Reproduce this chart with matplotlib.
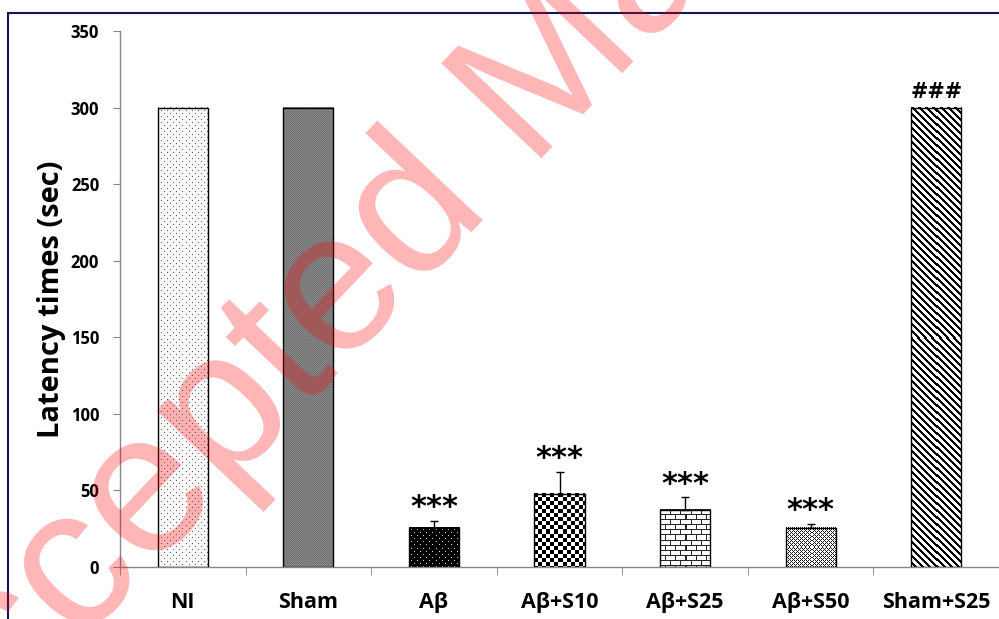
import numpy as np
import matplotlib
matplotlib.use("Agg")
import matplotlib.pyplot as plt
from matplotlib.patches import Rectangle

# data
groups = ["NI", "Sham", "Aβ", "Aβ+S10", "Aβ+S25", "Aβ+S50", "Sham+S25"]
latency = [300, 300, 25.7, 47.9, 37.4, 25.7, 300]
sem = [0, 0, 4.5, 14.4, 8.1, 2.6, 0]
marks = ["", "", "***", "***", "***", "***", "###"]
patterns = ["sparse_dots", "gray", "black_dots", "checker", "brick", "dense_dots", "stripes"]

BAYER = np.array([[0, 8, 2, 10], [12, 4, 14, 6], [3, 11, 1, 9], [15, 7, 13, 5]])


def make_texture(kind, h, w):
    r, c = np.mgrid[0:h, 0:w]
    img = np.ones((h, w))
    if kind == "sparse_dots":
        img[:] = 0.97
        dots = ((r % 6 == 0) & (c % 6 == 0)) | ((r % 6 == 3) & (c % 6 == 3))
        img[dots] = 0.35
    elif kind == "gray":
        img[:] = np.where((r + c) % 2 == 0, 0.44, 0.54)
    elif kind == "black_dots":
        img[:] = 0.0
        dots = ((r % 6 == 2) & (c % 6 == 2)) | ((r % 6 == 5) & (c % 6 == 5))
        img[dots] = 0.85
    elif kind == "checker":
        img[:] = np.where(((r // 4) + (c // 4)) % 2 == 0, 0.0, 1.0)
    elif kind == "brick":
        img[:] = 1.0
        row = r // 5
        img[r % 5 == 0] = 0.15
        vert = (r % 5 != 0) & (((c + 5 * (row % 2)) % 10) == 0)
        img[vert] = 0.15
    elif kind == "dense_dots":
        img[:] = np.where(BAYER[r % 4, c % 4] < 6, 0.1, 1.0)
    elif kind == "stripes":
        img[:] = np.where((c - r) % 7 < 3, 0.0, 1.0)
    return np.dstack([img, img, img])


W, H = 999, 619
fig = plt.figure(figsize=(W / 100, H / 100), dpi=100)
ax = fig.add_axes([120 / W, 52 / H, 1 - 120 / W, 536 / H])

x = np.arange(len(groups))
ax.set_xlim(-0.5, len(groups) - 0.5)
ax.set_ylim(0, 350)

bars = ax.bar(x, latency, width=0.4, facecolor="none", edgecolor="black",
              linewidth=1, zorder=3)

# fill each bar with a pixel texture like the old Excel patterns
for b, kind in zip(bars, patterns):
    x0, y0 = b.get_x(), b.get_y()
    x1, y1 = x0 + b.get_width(), y0 + b.get_height()
    p0 = ax.transData.transform((x0, y0))
    p1 = ax.transData.transform((x1, y1))
    wpx = max(int(round(p1[0] - p0[0])), 1)
    hpx = max(int(round(p1[1] - p0[1])), 1)
    ax.imshow(make_texture(kind, hpx, wpx), extent=(x0, x1, y0, y1),
              interpolation="nearest", aspect="auto", zorder=2)

ax.set_xlim(-0.5, len(groups) - 0.5)
ax.set_ylim(0, 350)

for xi, v, e in zip(x, latency, sem):
    if e > 0:
        ax.errorbar(xi, v, yerr=[[0], [e]], fmt="none", ecolor="black",
                    elinewidth=1, capsize=3, capthick=1, zorder=4)

for xi, v, e, m in zip(x, latency, sem, marks):
    if m == "***":
        ax.text(xi, v + e + 3, m, ha="center", va="baseline", fontsize=22,
                family="DejaVu Sans", fontweight="bold", zorder=5)
    elif m == "###":
        ax.text(xi, v + e + 6, m, ha="center", va="baseline", fontsize=15,
                family="DejaVu Sans", fontweight="bold", zorder=5)

for side in ["top", "right"]:
    ax.spines[side].set_visible(False)
for side in ["left", "bottom"]:
    ax.spines[side].set_color("#858585")
    ax.spines[side].set_linewidth(1)

ax.set_yticks(np.arange(0, 351, 50))
ax.set_xticks(x)
ax.set_xticklabels(groups)
ax.set_xticks(np.arange(-0.5, len(groups), 1), minor=True)
ax.tick_params(axis="x", which="major", length=0, pad=18)
ax.tick_params(axis="x", which="minor", length=6, color="#858585", direction="out")
ax.tick_params(axis="y", length=5, color="#858585", direction="out", pad=10)
for lab in ax.get_xticklabels():
    lab.set_family("Open Sans")
    lab.set_fontweight("bold")
    lab.set_fontsize(15.5)
for lab in ax.get_yticklabels():
    lab.set_family("Open Sans")
    lab.set_fontweight("bold")
    lab.set_fontsize(12)

ax.set_ylabel("Latency times (sec)", family="Open Sans", fontweight="bold",
              fontsize=21, labelpad=3)

# navy frame around the figure
fig.patches.append(Rectangle((8 / W, -0.5), 2, 0.5 + (H - 13) / H,
                             transform=fig.transFigure, fill=False,
                             edgecolor="#14145a", linewidth=1.5))

# watermark
fig.text(-0.082, -0.317, "Accepted Manuscript", rotation=46.5, rotation_mode="anchor",
         ha="left", va="baseline", fontsize=144, family="Liberation Sans",
         color="red", alpha=0.29, zorder=10)

fig.savefig("out.png", dpi=100)
